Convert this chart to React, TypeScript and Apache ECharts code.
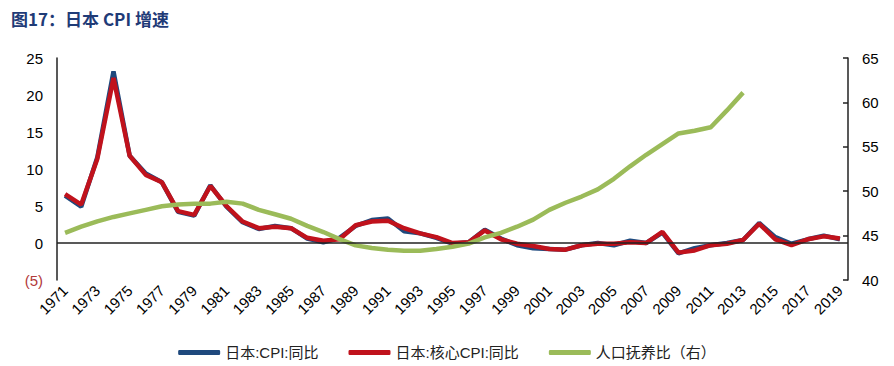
import React, { useEffect, useRef } from "react";
import * as echarts from "echarts";

const years: string[] = [];
for (let y = 1971; y <= 2019; y++) years.push(String(y));

const cpi = [
  6.4, 4.9, 11.6, 23.2, 11.8, 9.4, 8.2, 4.2, 3.7, 7.8,
  4.9, 2.8, 1.9, 2.3, 2.0, 0.6, 0.1, 0.7, 2.3, 3.1,
  3.3, 1.6, 1.3, 0.7, -0.1, 0.1, 1.8, 0.6, -0.3, -0.7,
  -0.8, -0.9, -0.3, 0.0, -0.3, 0.3, 0.0, 1.4, -1.4, -0.7,
  -0.3, 0.0, 0.4, 2.7, 0.8, -0.1, 0.5, 1.0, 0.5,
];

const coreCpi = [
  6.6, 5.2, 11.4, 22.3, 11.8, 9.2, 8.2, 4.3, 3.8, 7.7,
  5.0, 2.9, 2.0, 2.2, 2.0, 0.7, 0.3, 0.5, 2.4, 2.9,
  3.0, 2.0, 1.3, 0.8, 0.0, 0.1, 1.7, 0.5, -0.1, -0.4,
  -0.8, -0.9, -0.3, -0.1, -0.1, 0.1, 0.0, 1.5, -1.3, -1.0,
  -0.3, -0.1, 0.4, 2.6, 0.5, -0.3, 0.5, 0.9, 0.6,
];

const dependency: (number | null)[] = [
  45.3, 46.0, 46.6, 47.1, 47.5, 47.9, 48.3, 48.5, 48.6, 48.6,
  48.8, 48.6, 47.9, 47.4, 46.9, 46.1, 45.4, 44.6, 43.9, 43.6,
  43.4, 43.3, 43.3, 43.5, 43.75, 44.1, 44.8, 45.3, 46.0, 46.8,
  47.9, 48.7, 49.4, 50.2, 51.4, 52.8, 54.1, 55.3, 56.5, 56.8,
  57.2, 59.1, 61.1, null, null, null, null, null, null,
];

const seriesNames = ["日本:CPI:同比", "日本:核心CPI:同比", "人口抚养比（右）"];
const titleText = "图17：日本 CPI 增速";

export default function App() {
  const ref = useRef<HTMLDivElement>(null);
  useEffect(() => {
    if (!ref.current) return;
    const chart = echarts.init(ref.current, undefined, { renderer: "svg" });
    const font = "'Liberation Sans', Arial, 'Noto Sans CJK SC', sans-serif";
    chart.setOption({
      animation: false,
      backgroundColor: "#ffffff",
      title: {
        text: titleText,
        left: 6,
        top: 5,
        textStyle: {
          fontSize: 17,
          fontWeight: "bold",
          color: "#1f3b77",
          fontFamily: "'Noto Sans CJK SC', sans-serif",
        },
      },
      legend: {
        data: seriesNames,
        left: "center",
        top: 340,
        icon: "roundRect",
        itemWidth: 42,
        itemHeight: 5,
        itemGap: 30,
        textStyle: { fontSize: 15, color: "#222", fontFamily: font },
      },
      grid: { left: 57, right: 46, top: 58, bottom: 86, containLabel: false },
      xAxis: {
        type: "category",
        data: years,
        boundaryGap: true,
        axisLine: { show: false },
        axisTick: { show: false },
        axisLabel: {
          interval: 1,
          rotate: 45,
          margin: 8,
          fontSize: 15,
          color: "#000",
          fontFamily: font,
        },
        splitLine: { show: false },
      },
      yAxis: [
        {
          type: "value",
          min: -5,
          max: 25,
          interval: 5,
          position: "left",
          axisLine: { show: true, lineStyle: { color: "#222", width: 1.5 } },
          axisTick: { show: false },
          splitLine: { show: false },
          axisLabel: {
            margin: 14,
            fontSize: 15,
            color: "#000",
            fontFamily: font,
            formatter: (v: number) => (v < 0 ? "{neg|(" + Math.abs(v) + ")}" : String(v)),
            rich: { neg: { color: "#b23a3a", fontSize: 15, fontFamily: font } },
          },
        },
        {
          type: "value",
          min: 40,
          max: 65,
          interval: 5,
          position: "right",
          axisLine: { show: true, lineStyle: { color: "#222", width: 1.5 } },
          axisTick: { show: true, inside: true, length: 5, lineStyle: { color: "#222", width: 1.5 } },
          splitLine: { show: false },
          axisLabel: { margin: 14, fontSize: 15, color: "#000", fontFamily: font },
        },
      ],
      series: [
        {
          name: seriesNames[0],
          type: "line",
          data: cpi,
          yAxisIndex: 0,
          symbol: "none",
          lineStyle: { color: "#1f497d", width: 4.5 },
          itemStyle: { color: "#1f497d" },
          z: 2,
          markLine: {
            silent: true,
            symbol: "none",
            label: { show: false },
            lineStyle: { color: "#222", width: 1.5, type: "solid" },
            data: [{ yAxis: 0 }],
          },
        },
        {
          name: seriesNames[1],
          type: "line",
          data: coreCpi,
          yAxisIndex: 0,
          symbol: "none",
          lineStyle: { color: "#c0121c", width: 4.5 },
          itemStyle: { color: "#c0121c" },
          z: 3,
        },
        {
          name: seriesNames[2],
          type: "line",
          data: dependency,
          yAxisIndex: 1,
          symbol: "none",
          lineStyle: { color: "#9bbb59", width: 4.5 },
          itemStyle: { color: "#9bbb59" },
          z: 4,
        },
      ],
    });
    return () => chart.dispose();
  }, []);
  return (
    <div
      ref={ref}
      style={{ position: "absolute", left: 0, top: 0, width: 894, height: 366 }}
    />
  );
}
